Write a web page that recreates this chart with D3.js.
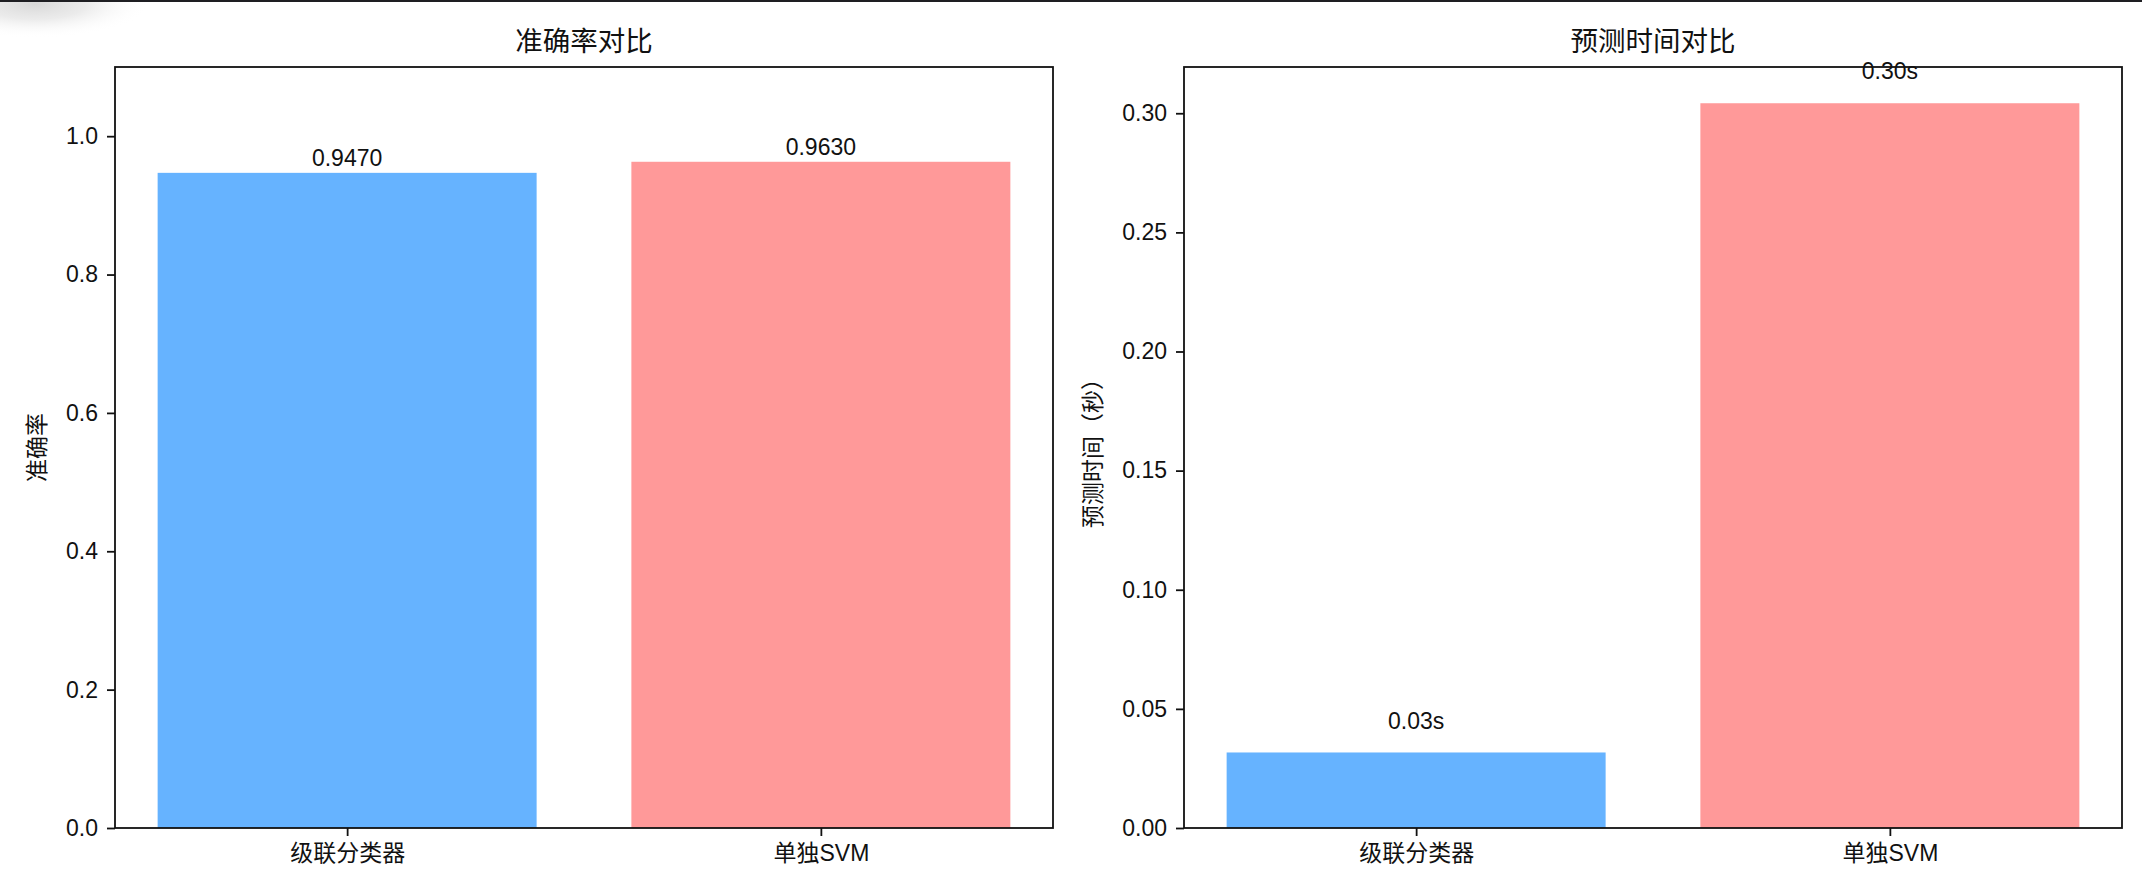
<!DOCTYPE html>
<html><head><meta charset="utf-8">
<script src="https://cdn.jsdelivr.net/npm/d3@7"></script>
<style>
html,body{margin:0;padding:0;background:#fff;}
svg{display:block;}
text{font-family:"Liberation Sans","Noto Sans CJK SC",sans-serif;fill:#111;}
</style></head>
<body>
<svg id="chart" width="2142" height="896"></svg>
<script>
const categories = ["级联分类器", "单独SVM"];
const accuracy = [0.947, 0.963];
const accuracyLabels = ["0.9470", "0.9630"];
const predTime = [0.0317, 0.3042];
const timeLabels = ["0.03s", "0.30s"];
const accTicks = [0.0, 0.2, 0.4, 0.6, 0.8, 1.0];
const timeTicks = [0.00, 0.05, 0.10, 0.15, 0.20, 0.25, 0.30];
const barColors = ["#66b3ff", "#ff9999"];
const titles = ["准确率对比", "预测时间对比"];
const yLabels = ["准确率", "预测时间（秒）"];

(function(){
const svg = d3.select("#chart");

const defs = svg.append("defs");
const rg = defs.append("radialGradient").attr("id","shade").attr("cx","0.5").attr("cy","0.5").attr("r","0.5");
rg.append("stop").attr("offset","0").attr("stop-color","#d8d8d8").attr("stop-opacity",1);
rg.append("stop").attr("offset","0.45").attr("stop-color","#e6e6e6").attr("stop-opacity",0.8);
rg.append("stop").attr("offset","1").attr("stop-color","#ffffff").attr("stop-opacity",0);
svg.append("ellipse").attr("cx",35).attr("cy",4).attr("rx",115).attr("ry",34).attr("fill","url(#shade)");
svg.append("rect").attr("x",0).attr("y",0).attr("width",2142).attr("height",2).attr("fill","#1e1e22");

const plotTop = 67, plotBottom = 828;
const panels = [
  {x0:115, x1:1053, values:accuracy, labels:accuracyLabels, ticks:accTicks, domain:[0,1.1], fmt:d3.format(".1f"), title:titles[0], ylab:yLabels[0], ylabX:37, labelOffset:null},
  {x0:1184, x1:2122, values:predTime, labels:timeLabels, ticks:timeTicks, domain:[0, d3.max(predTime)*1.05], fmt:d3.format(".2f"), title:titles[1], ylab:yLabels[1], ylabX:1093, labelOffset:0.01}
];

panels.forEach(p => {
  const g = svg.append("g");
  const x = d3.scaleLinear().domain([-0.49, 1.49]).range([p.x0, p.x1]);
  const y = d3.scaleLinear().domain(p.domain).range([plotBottom, plotTop]);

  g.selectAll("rect.bar").data(p.values).join("rect")
    .attr("class","bar")
    .attr("x",(d,i)=>x(i-0.4)).attr("width",(d,i)=>x(i+0.4)-x(i-0.4))
    .attr("y",d=>y(d)).attr("height",d=>y(0)-y(d))
    .attr("fill",(d,i)=>barColors[i]);

  g.append("rect").attr("x",p.x0).attr("y",plotTop).attr("width",p.x1-p.x0).attr("height",plotBottom-plotTop)
    .attr("fill","none").attr("stroke","#111").attr("stroke-width",1.8);

  const ya = d3.axisLeft(y).tickValues(p.ticks).tickFormat(p.fmt).tickSize(8).tickPadding(9);
  const yg = g.append("g").attr("transform",`translate(${p.x0},0)`).call(ya);
  yg.select(".domain").remove();
  yg.selectAll(".tick line").attr("stroke","#111").attr("stroke-width",1.8);
  yg.selectAll(".tick text").attr("font-size",23).attr("fill","#111")
    .style("font-family","'Liberation Sans','Noto Sans CJK SC',sans-serif");

  const xa = d3.axisBottom(x).tickValues([0,1]).tickFormat(i=>categories[i]).tickSize(8).tickPadding(9);
  const xg = g.append("g").attr("transform",`translate(0,${plotBottom})`).call(xa);
  xg.select(".domain").remove();
  xg.selectAll(".tick line").attr("stroke","#111").attr("stroke-width",1.8);
  xg.selectAll(".tick text").attr("font-size",23).attr("fill","#111")
    .style("font-family","'Liberation Sans','Noto Sans CJK SC',sans-serif");

  g.selectAll("text.val").data(p.values).join("text")
    .attr("class","val")
    .attr("x",(d,i)=>x(i))
    .attr("y",d=> p.labelOffset===null ? y(d)-7 : y(d+p.labelOffset))
    .attr("text-anchor","middle").attr("font-size",23)
    .text((d,i)=>p.labels[i]);

  g.append("text").attr("x",(p.x0+p.x1)/2).attr("y",51)
    .attr("text-anchor","middle").attr("font-size",27.5).text(p.title);

  g.append("text").attr("transform",`translate(${p.ylabX},${(plotTop+plotBottom)/2}) rotate(-90)`)
    .attr("text-anchor","middle").attr("dominant-baseline","central").attr("font-size",23).text(p.ylab);
});
})();
</script>
</body></html>
